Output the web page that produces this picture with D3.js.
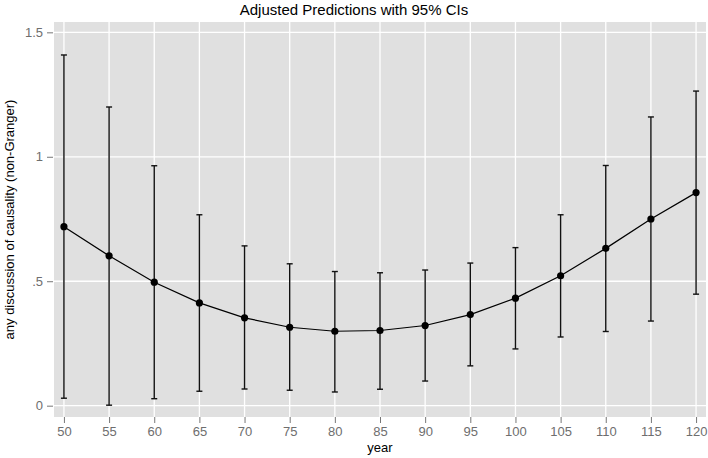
<!DOCTYPE html>
<html><head><meta charset="utf-8">
<script src="https://cdn.jsdelivr.net/npm/d3@7"></script>
<style>body{margin:0;background:#fff}svg{display:block}text{font-family:"Liberation Sans",Arial,sans-serif}</style>
</head><body>
<svg id="c" width="708" height="458"></svg>
<script>
const years = [50,55,60,65,70,75,80,85,90,95,100,105,110,115,120];
const est   = [0.719,0.602,0.496,0.413,0.353,0.315,0.299,0.302,0.322,0.366,0.432,0.522,0.632,0.750,0.856];
const lo    = [0.030,0.002,0.028,0.058,0.067,0.062,0.055,0.066,0.099,0.160,0.228,0.276,0.298,0.340,0.448];
const hi    = [1.409,1.200,0.964,0.767,0.642,0.570,0.539,0.534,0.545,0.573,0.635,0.767,0.965,1.160,1.264];
const yTicks = [0,0.5,1,1.5];
const yTickLabels = ["0",".5","1","1.5"];
const title = "Adjusted Predictions with 95% CIs";
const xTitle = "year";
const yTitle = "any discussion of causality (non-Granger)";

const data = years.map((y,i)=>({x:y,e:est[i],l:lo[i],h:hi[i]}));
const svg = d3.select("#c");
const L=54,R=706,T=22,B=417;
const x = d3.scaleLinear().domain([48.9,121.1]).range([L,R]);
const y = d3.scaleLinear().domain([-0.0455,1.5415]).range([B,T]);

svg.append("rect").attr("x",L).attr("y",T).attr("width",R-L).attr("height",B-T).attr("fill","#e0e0e0");
const g = svg.append("g");
g.selectAll(".vg").data(years).join("line").attr("x1",d=>x(d)).attr("x2",d=>x(d)).attr("y1",T).attr("y2",B)
  .attr("stroke","#fff").attr("stroke-width",1.3);
g.selectAll(".hg").data(yTicks).join("line").attr("y1",d=>y(d)).attr("y2",d=>y(d)).attr("x1",L).attr("x2",R)
  .attr("stroke","#fff").attr("stroke-width",1.3);

// axes
const xa = svg.append("g").attr("transform",`translate(0,${B})`)
  .call(d3.axisBottom(x).tickValues(years).tickSize(6).tickPadding(4).tickFormat(d3.format("d")));
const ya = svg.append("g").attr("transform",`translate(${L-1},0)`)
  .call(d3.axisLeft(y).tickValues(yTicks).tickSize(6).tickPadding(4).tickFormat((d,i)=>yTickLabels[i]));
[xa,ya].forEach(a=>{
  a.select(".domain").remove();
  a.selectAll(".tick line").attr("stroke","#777").attr("stroke-width",1);
  a.selectAll(".tick text").attr("fill","#6e6e6e").style("font-size","13px");
});

// error bars
const eb = svg.append("g").attr("stroke","#111").attr("stroke-width",1.4);
eb.selectAll(".v").data(data).join("line").attr("x1",d=>x(d.x)).attr("x2",d=>x(d.x)).attr("y1",d=>y(d.l)).attr("y2",d=>y(d.h));
eb.selectAll(".ct").data(data).join("line").attr("x1",d=>x(d.x)-3).attr("x2",d=>x(d.x)+3).attr("y1",d=>y(d.h)).attr("y2",d=>y(d.h));
eb.selectAll(".cb").data(data).join("line").attr("x1",d=>x(d.x)-3).attr("x2",d=>x(d.x)+3).attr("y1",d=>y(d.l)).attr("y2",d=>y(d.l));

svg.append("path").datum(data).attr("fill","none").attr("stroke","#000").attr("stroke-width",1.2)
  .attr("d",d3.line().x(d=>x(d.x)).y(d=>y(d.e)));
svg.selectAll(".pt").data(data).join("circle").attr("cx",d=>x(d.x)).attr("cy",d=>y(d.e)).attr("r",3.6).attr("fill","#000");

svg.append("text").attr("x",354).attr("y",15).attr("text-anchor","middle").style("font-size","15px").attr("fill","#000").text(title);
svg.append("text").attr("x",(L+R)/2).attr("y",452).attr("text-anchor","middle").style("font-size","13px").attr("fill","#000").text(xTitle);
svg.append("text").attr("transform",`translate(14,${(T+B)/2}) rotate(-90)`).attr("text-anchor","middle").style("font-size","13px").attr("fill","#000").text(yTitle);
</script>
</body></html>
